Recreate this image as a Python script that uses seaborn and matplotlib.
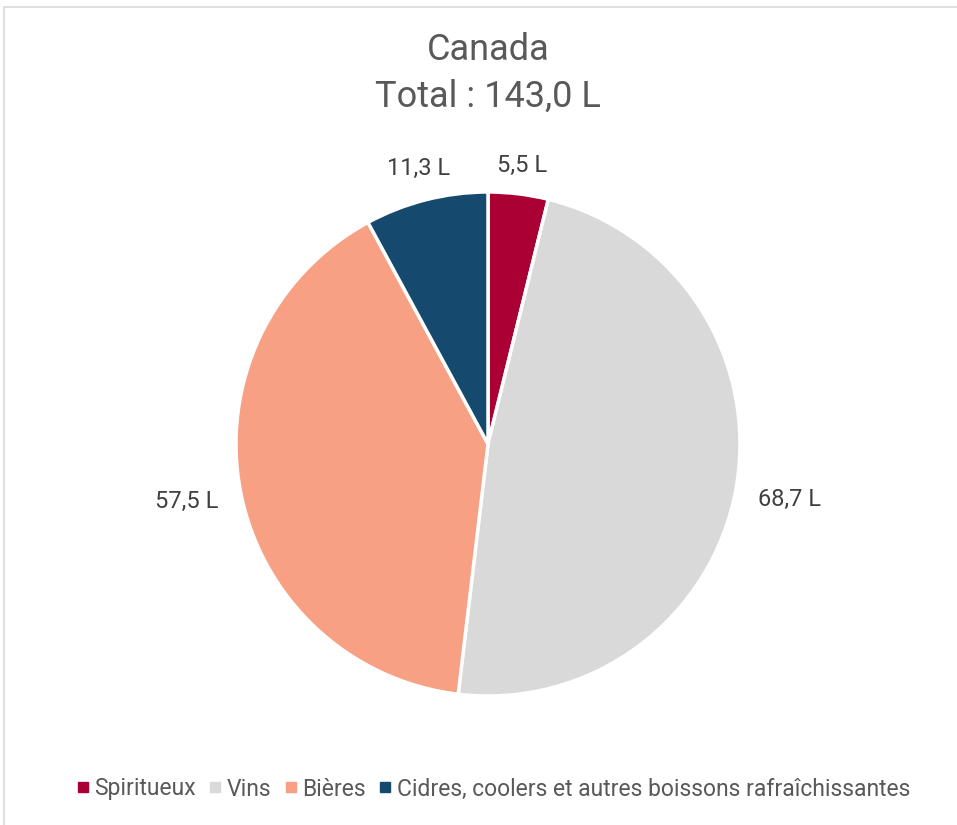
import numpy as np
import matplotlib
matplotlib.use("Agg")
import matplotlib.pyplot as plt
from matplotlib.lines import Line2D
from matplotlib.patches import Rectangle
import seaborn as sns

# data
categories = ["Spiritueux", "Vins", "Bières", "Cidres, coolers et autres boissons rafraîchissantes"]
volumes = [5.5, 68.7, 57.5, 11.3]
colors = ["#AB0033", "#D9D9D9", "#F8A084", "#154A6E"]
title_lines = ["Canada", "Total : 143,0 L"]

sns.set_theme(style="white")
plt.rcParams["font.family"] = ["Roboto", "DejaVu Sans"]

W, H = 957, 825
fig = plt.figure(figsize=(W / 100, H / 100), dpi=100)

# light frame round the chart
fig.patches.append(Rectangle((4 / W, -0.05), 1.1, 1 - 7 / H + 0.05, transform=fig.transFigure,
                             fill=False, edgecolor="#D9D9D9", linewidth=1.2))

cx, cy, R = 488, 444, 252
ax = fig.add_axes([(cx - R) / W, (H - cy - R) / H, 2 * R / W, 2 * R / H])
wedges, _ = ax.pie(volumes, colors=colors, startangle=90, counterclock=False,
                   wedgeprops=dict(edgecolor="white", linewidth=2.5))
ax.set_xlim(-1, 1)
ax.set_ylim(-1, 1)
ax.set_aspect("equal")

# value labels, just outside each slice
for w, v in zip(wedges, volumes):
    th = np.deg2rad((w.theta1 + w.theta2) / 2)
    d = 1.1 + 0.12 * abs(np.cos(th))
    ax.text(d * np.cos(th), d * np.sin(th), f"{v:.1f} L".replace(".", ","),
            ha="center", va="center", fontsize=17, color="#404040")

fig.text(cx / W, 1 - 50 / H, title_lines[0], ha="center", va="center", fontsize=26, color="#595959")
fig.text(cx / W, 1 - 97 / H, title_lines[1], ha="center", va="center", fontsize=26, color="#595959")

handles = [Line2D([], [], marker="s", linestyle="", markersize=7, color=c) for c in colors]
fig.legend(handles, categories, loc="center", bbox_to_anchor=(493 / W, 1 - 789 / H), ncol=4,
           frameon=False, fontsize=16.5, labelcolor="#595959", handletextpad=0.2,
           columnspacing=0.55, handlelength=0.6)

fig.savefig("out.png", dpi=100)
